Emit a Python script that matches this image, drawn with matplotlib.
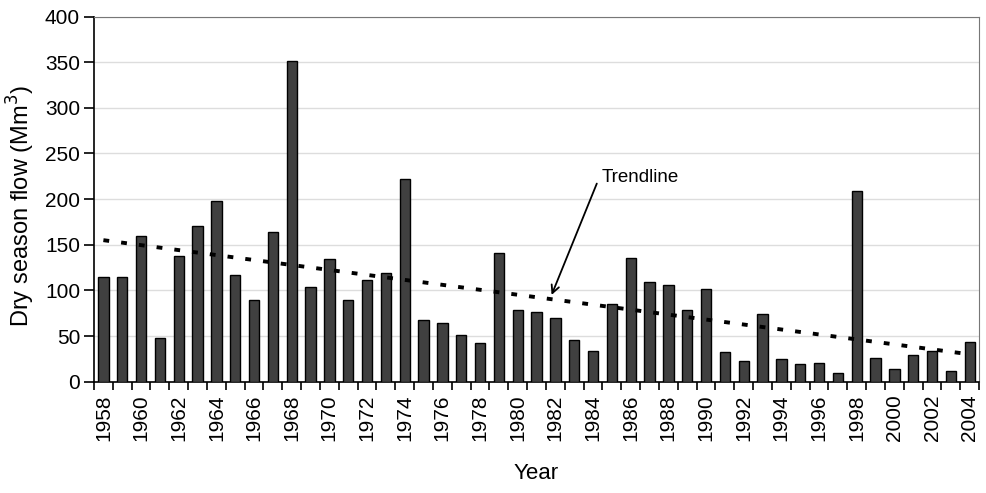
import numpy as np
import matplotlib.pyplot as plt

plt.rcParams['font.family'] = ['Liberation Sans', 'DejaVu Sans']

years = list(range(1958, 2005))
flow = [115, 115, 160, 48, 138, 170, 198, 117, 89, 164,
        351, 104, 134, 89, 111, 119, 222, 68, 64, 51,
        42, 141, 79, 76, 70, 46, 34, 85, 136, 109,
        106, 79, 102, 32, 23, 74, 25, 19, 21, 10,
        209, 26, 14, 29, 34, 12, 44]
trend_ends = [155, 30]   # trendline value at 1958 and 2004
yticks = [0, 50, 100, 150, 200, 250, 300, 350, 400]

fig = plt.figure(figsize=(9.86, 4.93), dpi=100)
ax = fig.add_axes([0.0953, 0.2258, 0.8977, 0.7407])

x = np.arange(len(years))
ax.bar(x, flow, width=0.55, color='#404040', edgecolor='black', linewidth=1.0, zorder=3)
ax.plot([x[0], x[-1]], trend_ends, color='black', linestyle=(0, (1.5, 3.1)),
        linewidth=2.8, zorder=4)

ax.set_xlim(-0.5, len(years) - 0.5)
ax.set_ylim(0, 400)
ax.set_yticks(yticks)
ax.yaxis.grid(True, color='#dddddd', linewidth=1.0, zorder=0)

# ticks between categories, labels every second year
ax.set_xticks(np.arange(-0.5, len(years), 1.0), minor=True)
ax.set_xticks(x[::2])
ax.set_xticklabels([str(y) for y in years[::2]], rotation=90)
ax.tick_params(axis='x', which='major', length=0, pad=9, labelsize=15)
ax.tick_params(axis='x', which='minor', length=6, width=1.2, direction='out')
ax.tick_params(axis='y', length=7, width=1.2, direction='out', labelsize=15, pad=3)

for side in ['top', 'right']:
    ax.spines[side].set_color('#777777')
for side in ['left', 'bottom']:
    ax.spines[side].set_linewidth(1.2)

ax.set_ylabel('Dry season flow (Mm$^3$)', fontsize=17)
ax.yaxis.set_label_coords(-0.064, 0.48)
ax.set_xlabel('Year', fontsize=16, labelpad=16)

# annotation: label text and separate arrow
ax.text(26.45, 224, 'Trendline', fontsize=13.5, ha='left', va='center')
ax.annotate('', xy=(23.8, 95), xytext=(26.2, 217),
            arrowprops=dict(arrowstyle='->', color='black', lw=1.3,
                            shrinkA=0, shrinkB=0, mutation_scale=14))

fig.savefig('out.png', dpi=100)
